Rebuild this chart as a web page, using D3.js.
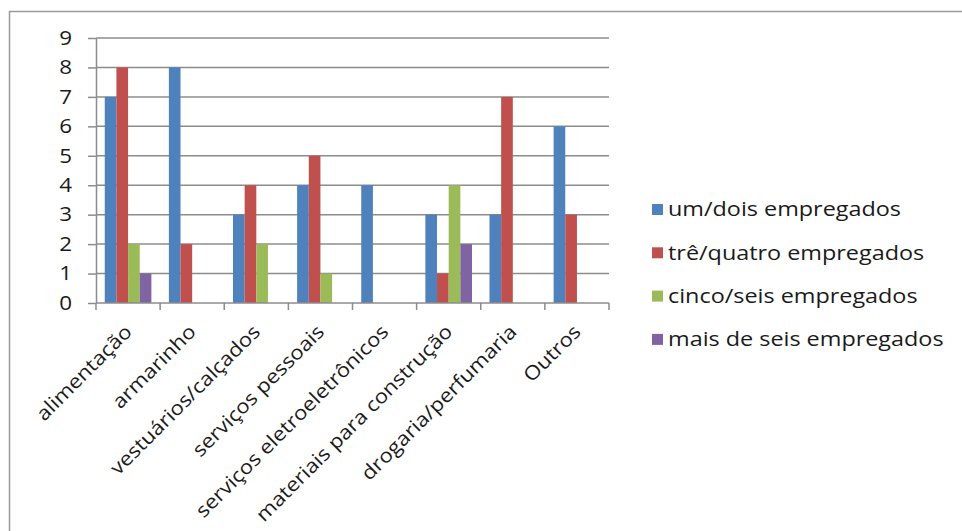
<!DOCTYPE html>
<html>
<head>
<meta charset="utf-8">
<script src="https://cdn.jsdelivr.net/npm/d3@7/dist/d3.min.js"></script>
<style>
  html, body { margin: 0; padding: 0; background: #fff; }
  svg { display: block; }
  text { font-family: "Open Sans", "Noto Sans", sans-serif; fill: #1a1a1a; }
</style>
</head>
<body>
<svg id="chart" width="962" height="531"></svg>
<script>
// Estabelecimentos por ramo de atividade e número de empregados
const categories = [
  "alimentação",
  "armarinho",
  "vestuários/calçados",
  "serviços pessoais",
  "serviços eletroeletrônicos",
  "materiais para construção",
  "drogaria/perfumaria",
  "Outros"
];
const seriesNames = [
  "um/dois empregados",
  "trê/quatro empregados",
  "cinco/seis empregados",
  "mais de seis empregados"
];
const umDois      = [7, 8, 3, 4, 4, 3, 3, 6];
const treQuatro   = [8, 2, 4, 5, 0, 1, 7, 3];
const cincoSeis   = [2, 0, 2, 1, 0, 4, 0, 0];
const maisDeSeis  = [1, 0, 0, 0, 0, 2, 0, 0];
const yTicks = [0, 1, 2, 3, 4, 5, 6, 7, 8, 9];
const colors = ["#4F81BD", "#C0504D", "#9BBB59", "#8064A2"];

const seriesValues = [umDois, treQuatro, cincoSeis, maisDeSeis];
const rows = categories.map((c, i) => ({
  cat: c,
  vals: seriesNames.map((s, j) => ({ key: s, value: seriesValues[j][i] }))
}));

const svg = d3.select("#chart");
const wide = 1.2;        // legend face is set wide
const labelWide = 1.13;  // category labels

// outer frame of the chart area
svg.append("path")
  .attr("d", "M9.5,540 V11.5 H970")
  .attr("fill", "none")
  .attr("stroke", "#9a9a9a")
  .attr("stroke-width", 1.5);

const plot = { left: 96, right: 609, top: 38, bottom: 303 };

const y = d3.scaleLinear().domain([0, 9]).range([plot.bottom, plot.top]);

// gap width of 150% between clusters
const gap = 1.5 / 5.5;
const x0 = d3.scaleBand().domain(categories)
  .range([plot.left, plot.right])
  .paddingInner(gap).paddingOuter(gap / 2);
const x1 = d3.scaleBand().domain(seriesNames).range([0, x0.bandwidth()]);
const color = d3.scaleOrdinal().domain(seriesNames).range(colors);

// horizontal gridlines
svg.append("g")
  .selectAll("line")
  .data(yTicks.filter(d => d > 0))
  .join("line")
  .attr("x1", plot.left).attr("x2", plot.right)
  .attr("y1", d => y(d)).attr("y2", d => y(d))
  .attr("stroke", "#8c8c8c")
  .attr("stroke-width", 1.5);

// bars
svg.append("g")
  .selectAll("g")
  .data(rows)
  .join("g")
  .attr("transform", d => `translate(${x0(d.cat)},0)`)
  .selectAll("rect")
  .data(d => d.vals.filter(v => v.value > 0))
  .join("rect")
  .attr("x", d => x1(d.key))
  .attr("width", x1.bandwidth())
  .attr("y", d => y(d.value))
  .attr("height", d => y(0) - y(d.value))
  .attr("fill", d => color(d.key));

// y axis
const yAxis = svg.append("g")
  .attr("transform", `translate(${plot.left},0)`)
  .call(d3.axisLeft(y).tickValues(yTicks).tickSize(8).tickPadding(0).tickSizeOuter(0));
yAxis.select(".domain").attr("stroke", "#8c8c8c").attr("stroke-width", 1.5);
yAxis.selectAll(".tick line").attr("stroke", "#8c8c8c").attr("stroke-width", 1.5);
yAxis.selectAll(".tick text")
  .attr("x", 0)
  .attr("transform", `translate(-24,0) scale(1.15,1)`)
  .style("font-family", "'Open Sans', sans-serif")
  .style("font-size", "19.5px")
  .attr("fill", "#1a1a1a");

// x axis: boundary ticks between categories
const step = x0.step();
const boundaries = d3.range(categories.length + 1).map(i => plot.left + i * step);
svg.append("line")
  .attr("x1", plot.left).attr("x2", plot.right)
  .attr("y1", plot.bottom).attr("y2", plot.bottom)
  .attr("stroke", "#8c8c8c").attr("stroke-width", 1.5);
svg.append("g")
  .selectAll("line")
  .data(boundaries)
  .join("line")
  .attr("x1", d => d).attr("x2", d => d)
  .attr("y1", plot.bottom).attr("y2", plot.bottom + 7)
  .attr("stroke", "#8c8c8c").attr("stroke-width", 1.5);

// rotated category labels, anchored at the end of their baseline
svg.append("g")
  .selectAll("text")
  .data(categories)
  .join("text")
  .attr("transform", d => `translate(${x0(d) + x0.bandwidth() / 2 + 5},${plot.bottom + 30}) rotate(-45) scale(${labelWide},1)`)
  .attr("text-anchor", "end")
  .style("font-size", "19.5px")
  .text(d => d);

// legend
const legend = svg.append("g")
  .selectAll("g")
  .data(seriesNames)
  .join("g")
  .attr("transform", (d, i) => `translate(652,${209.5 + i * 43.3})`);
legend.append("rect")
  .attr("x", 0).attr("y", -5.5)
  .attr("width", 11).attr("height", 11)
  .attr("fill", d => color(d));
legend.append("text")
  .attr("transform", `translate(16,0) scale(${wide},1)`)
  .attr("dy", "0.35em")
  .style("font-size", "19.5px")
  .text(d => d);
</script>
</body>
</html>
